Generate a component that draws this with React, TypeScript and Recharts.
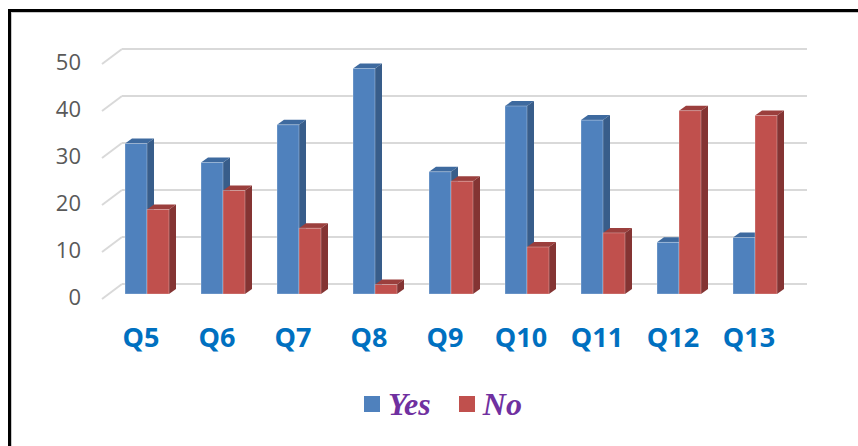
import React from "react";
import { BarChart, Bar, XAxis, YAxis, CartesianGrid, Legend } from "recharts";

const categories = ["Q5", "Q6", "Q7", "Q8", "Q9", "Q10", "Q11", "Q12", "Q13"];
const yesValues = [32, 28, 36, 48, 26, 40, 37, 11, 12];
const noValues = [18, 22, 14, 2, 24, 10, 13, 39, 38];
const yTicks = [0, 10, 20, 30, 40, 50];

const data = categories.map((name, i) => ({
  name,
  yes: yesValues[i],
  no: noValues[i],
}));

const SERIES = {
  yes: { label: "Yes", front: "#4F81BD", side: "#385D8A", top: "#3E6A9F" },
  no: { label: "No", front: "#C0504D", side: "#843433", top: "#9B3F3D" },
};

// depth of the fake 3D extrusion
const DX = 7;
const DY = 5;

const Bar3D = (props: any) => {
  const { x, y, width, height, colors } = props;
  if (!height || height <= 0) return null;
  return (
    <g>
      <polygon
        points={`${x},${y} ${x + DX},${y - DY} ${x + width + DX},${y - DY} ${x + width},${y}`}
        fill={colors.top}
      />
      <polygon
        points={`${x + width},${y} ${x + width + DX},${y - DY} ${x + width + DX},${y + height - DY} ${x + width},${y + height}`}
        fill={colors.side}
      />
      <rect
        x={x}
        y={y}
        width={width}
        height={height}
        fill={colors.front}
        stroke="rgba(255,255,255,0.35)"
        strokeWidth={0.8}
      />
    </g>
  );
};

// back-wall gridline plus the slanted floor edge on the left
const GridLine = (props: any) => {
  const { x1, x2, y1 } = props;
  return (
    <g>
      <line x1={x1 + 13} x2={x2 + 14} y1={y1 - 10} y2={y1 - 10} stroke="#D9D9D9" strokeWidth={2} />
      <line x1={x1 - 7} y1={y1 + 5} x2={x1 + 13} y2={y1 - 10} stroke="#D9D9D9" strokeWidth={2} />
    </g>
  );
};

const YTick = (props: any) => {
  const { x, y, payload } = props;
  return (
    <text
      x={x - 28}
      y={y + 3}
      dy="0.35em"
      textAnchor="end"
      fill="#595959"
      fontSize={22}
      fontFamily="'Open Sans', sans-serif"
    >
      {payload.value}
    </text>
  );
};

const XTick = (props: any) => {
  const { x, y, payload } = props;
  return (
    <text
      x={x - 6}
      y={y + 53}
      textAnchor="middle"
      fill="#0070C0"
      fontSize={27}
      fontWeight={700}
      fontFamily="'Open Sans', sans-serif"
    >
      {payload.value}
    </text>
  );
};

const LegendContent = () => (
  <div
    style={{
      display: "flex",
      justifyContent: "center",
      alignItems: "center",
      gap: 28,
      paddingLeft: 28,
    }}
  >
    {[SERIES.yes, SERIES.no].map((s) => (
      <div key={s.label} style={{ display: "flex", alignItems: "center", gap: 8 }}>
        <span style={{ width: 16, height: 16, background: s.front, display: "inline-block" }} />
        <span
          style={{
            fontFamily: "'Liberation Serif', 'Times New Roman', serif",
            fontStyle: "italic",
            fontWeight: 700,
            fontSize: 32,
            color: "#7030A0",
            lineHeight: "36px",
          }}
        >
          {s.label}
        </span>
      </div>
    ))}
  </div>
);

export default function App() {
  return (
    <div
      style={{
        position: "fixed",
        left: 0,
        top: 0,
        width: 858,
        height: 446,
        overflow: "hidden",
        background: "#fff",
      }}
    >
      <div
        style={{
          position: "absolute",
          left: 8,
          top: 9,
          width: 900,
          height: 434,
          borderTop: "3px solid #000",
          borderLeft: "3px solid #000",
          borderBottom: "2px solid #D9D9D9",
          boxShadow: "inset 1px 1px 0 #C8C8C8",
        }}
      />
      <div style={{ position: "absolute", left: 0, top: 0 }}>
        <BarChart
          width={858}
          height={446}
          data={data}
          margin={{ top: 59, right: 65, bottom: 92, left: 20 }}
          barSize={22}
          barGap={0}
        >
          <CartesianGrid
            vertical={false}
            horizontal={(p: any) => <GridLine key={p.key} {...p} />}
          />
          <XAxis
            dataKey="name"
            height={60}
            axisLine={false}
            tickLine={false}
            tickSize={0}
            tickMargin={0}
            tick={<XTick />}
            interval={0}
          />
          <YAxis
            width={89}
            domain={[0, 50]}
            ticks={yTicks}
            interval={0}
            axisLine={false}
            tickLine={false}
            tickSize={0}
            tickMargin={0}
            tick={<YTick />}
          />
          <Legend
            layout="horizontal"
            verticalAlign="middle"
            align="center"
            content={<LegendContent />}
            wrapperStyle={{ top: 386, left: 0, width: 858 }}
          />
          <Bar
            dataKey="yes"
            name="Yes"
            fill={SERIES.yes.front}
            isAnimationActive={false}
            shape={(p: any) => <Bar3D {...p} colors={SERIES.yes} />}
          />
          <Bar
            dataKey="no"
            name="No"
            fill={SERIES.no.front}
            isAnimationActive={false}
            shape={(p: any) => <Bar3D {...p} colors={SERIES.no} />}
          />
        </BarChart>
      </div>
    </div>
  );
}
